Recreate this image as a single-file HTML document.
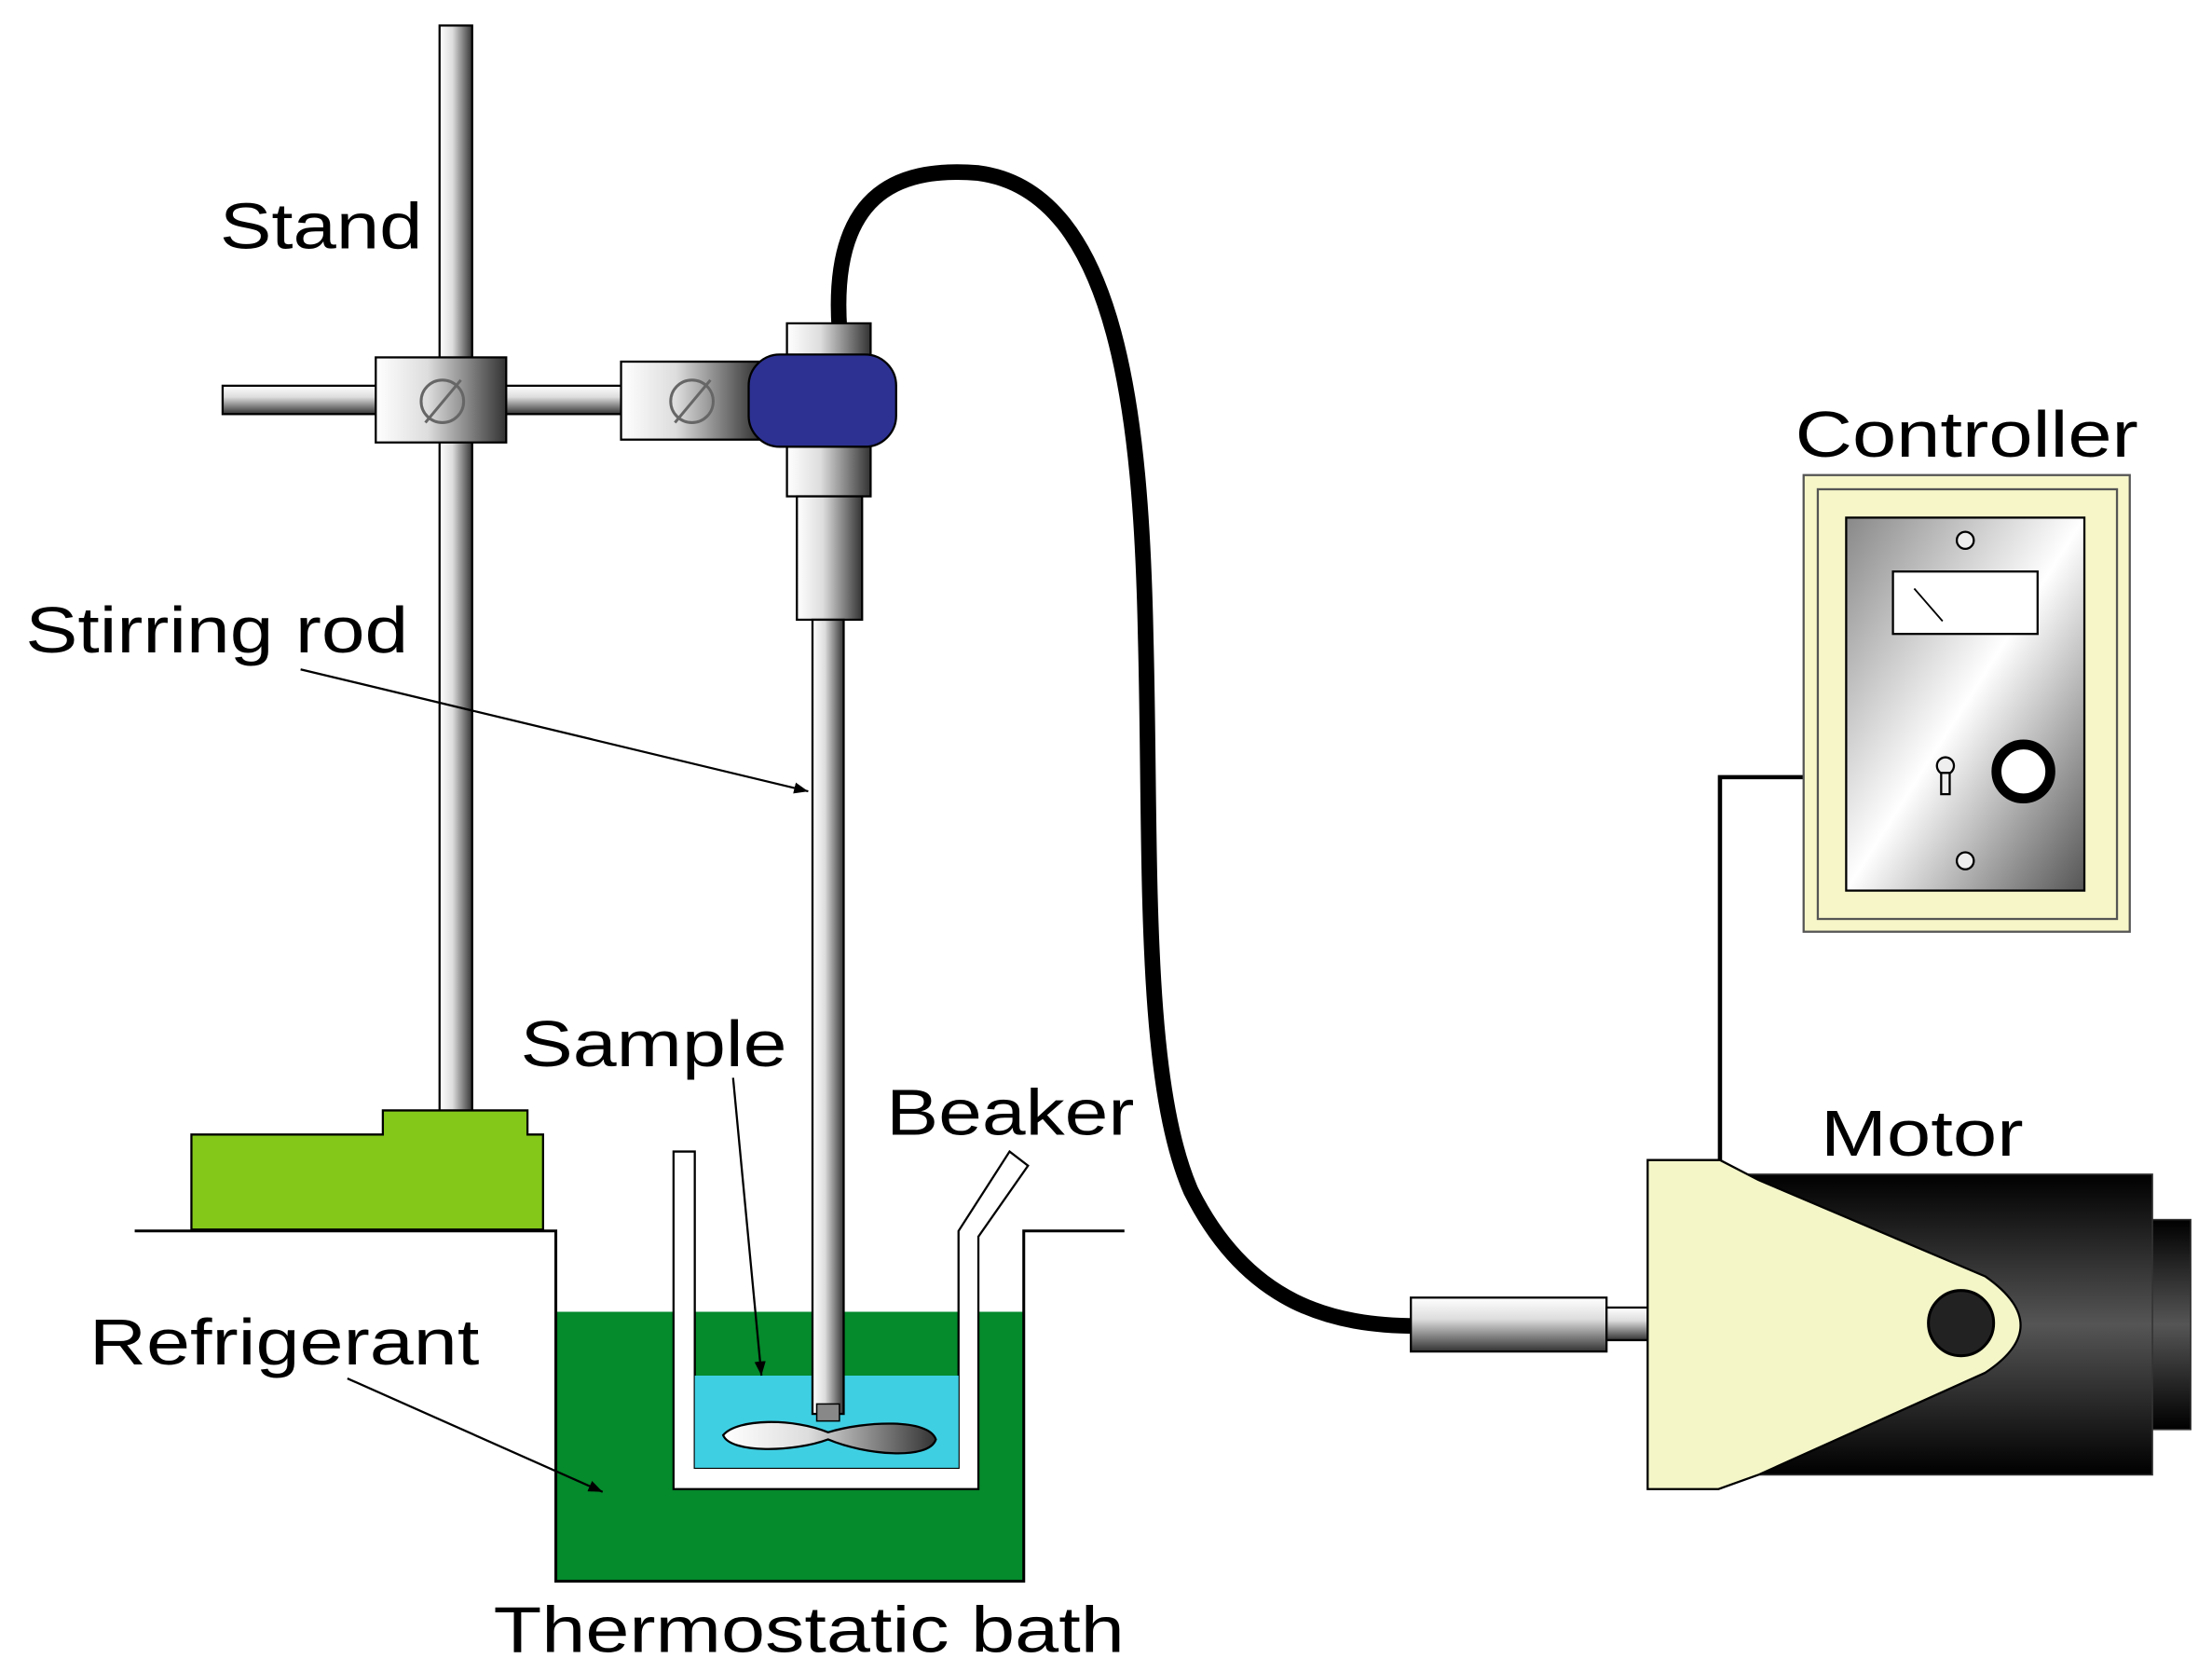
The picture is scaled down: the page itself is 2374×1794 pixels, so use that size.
<!DOCTYPE html>
<html><head><meta charset="utf-8"><style>html,body{margin:0;padding:0;background:#fff}svg{display:block}</style></head><body>
<svg width="2374" height="1794" viewBox="0 0 1560 1179" preserveAspectRatio="none" xmlns="http://www.w3.org/2000/svg" font-family="Liberation Sans, sans-serif">
<defs>
<linearGradient id="gx" x1="0" x2="1" y1="0" y2="0"><stop offset="0" stop-color="#fff"/><stop offset="0.4" stop-color="#ddd"/><stop offset="1" stop-color="#333"/></linearGradient>
<linearGradient id="gy" x1="0" x2="0" y1="0" y2="1"><stop offset="0" stop-color="#fff"/><stop offset="0.4" stop-color="#ddd"/><stop offset="1" stop-color="#333"/></linearGradient>
<linearGradient id="gb" x1="0" x2="0" y1="0" y2="1"><stop offset="0" stop-color="#000"/><stop offset="0.5" stop-color="#555"/><stop offset="1" stop-color="#000"/></linearGradient>
<linearGradient id="gp" x1="0" x2="1" y1="0" y2="1"><stop offset="0" stop-color="#888"/><stop offset="0.5" stop-color="#fff"/><stop offset="1" stop-color="#555"/></linearGradient>
<marker id="ar" markerWidth="10" markerHeight="8" refX="10" refY="4" orient="auto" markerUnits="userSpaceOnUse"><path d="M0,0 L10,4 L0,8 Z" fill="#000"/></marker>
</defs>
<rect x="310" y="18" width="23" height="767" fill="url(#gx)" stroke="#000" stroke-width="1.5"/>
<rect x="157" y="272" width="385" height="20" fill="url(#gy)" stroke="#000" stroke-width="1.5"/>
<rect x="265" y="252" width="92" height="60" fill="url(#gx)" stroke="#000" stroke-width="1.5"/>
<rect x="438" y="255" width="97" height="55" fill="url(#gx)" stroke="#000" stroke-width="1.5"/>
<g fill="none" stroke="#666" stroke-width="2">
<circle cx="312" cy="283" r="15"/><line x1="300" y1="298" x2="325" y2="268"/>
<circle cx="488" cy="283" r="15"/><line x1="476" y1="298" x2="501" y2="268"/>
</g>
<path d="M135,800 L270,800 L270,783 L372,783 L372,800 L383,800 L383,867 L135,867 Z" fill="#84c81a" stroke="#000" stroke-width="1.5"/>
<path d="M592,232 C585,130 640,118 690,122 C790,135 805,300 808,450 C812,600 805,760 840,840 C880,920 940,935 1000,935" fill="none" stroke="#000" stroke-width="11"/>
<rect x="555" y="228" width="59" height="24" fill="url(#gx)" stroke="#000" stroke-width="1.5"/>
<rect x="555" y="312" width="59" height="38" fill="url(#gx)" stroke="#000" stroke-width="1.5"/>
<rect x="528" y="250" width="104" height="65" rx="22" fill="#2c3192" stroke="#000" stroke-width="1.5"/>
<rect x="562" y="350" width="46" height="87" fill="url(#gx)" stroke="#000" stroke-width="1.5"/>
<rect x="392" y="925" width="330" height="190" fill="#058a2c"/>
<path d="M95,868 L392,868 L392,1115 L722,1115 L722,868 L793,868" fill="none" stroke="#000" stroke-width="2"/>
<path d="M475,812 L490,812 L490,1035 L676,1035 L676,868 L712,812 L725,822 L690,872 L690,1050 L475,1050 Z" fill="#fff" stroke="#000" stroke-width="1.5"/>
<rect x="490" y="970" width="186" height="65" fill="#3fcfe3"/>
<rect x="573" y="437" width="22" height="560" fill="url(#gx)" stroke="#000" stroke-width="1.5"/>
<rect x="576" y="990" width="16" height="12" fill="#888" stroke="#000"/>
<path d="M584,1010 C560,1000 520,1000 510,1012 C515,1025 560,1024 584,1015 C610,1026 655,1030 660,1015 C655,1000 610,1002 584,1010 Z" fill="url(#gx)" stroke="#000" stroke-width="1.5"/>
<rect x="995" y="915" width="138" height="38" fill="url(#gy)" stroke="#000" stroke-width="1.5"/>
<rect x="1133" y="922" width="30" height="23" fill="url(#gy)" stroke="#000" stroke-width="1.5"/>
<rect x="1515" y="860" width="30" height="148" fill="url(#gb)" stroke="#333"/>
<rect x="1230" y="828" width="288" height="212" fill="url(#gb)" stroke="#333"/>
<path d="M1162,818 L1213,818 L1240,832 L1400,900 Q1450,935 1400,968 L1240,1040 L1212,1050 L1162,1050 Z" fill="#f4f6c8" stroke="#000" stroke-width="1.5"/>
<circle cx="1383" cy="933" r="23" fill="#222" stroke="#000" stroke-width="2"/>
<path d="M1213,818 L1213,548 L1272,548" fill="none" stroke="#000" stroke-width="3"/>
<rect x="1272" y="335" width="230" height="322" fill="#f7f6c9" stroke="#555" stroke-width="1.5"/>
<rect x="1282" y="345" width="211" height="303" fill="none" stroke="#555" stroke-width="1.5"/>
<rect x="1302" y="365" width="168" height="263" fill="url(#gp)" stroke="#000" stroke-width="1.5"/>
<rect x="1335" y="403" width="102" height="44" fill="#fff" stroke="#000" stroke-width="1.5"/>
<line x1="1350" y1="415" x2="1370" y2="438" stroke="#000" stroke-width="1.2"/>
<circle cx="1386" cy="381" r="6" fill="#eee" stroke="#000" stroke-width="1.5"/>
<circle cx="1386" cy="607" r="6" fill="#eee" stroke="#000" stroke-width="1.5"/>
<circle cx="1372" cy="540" r="6" fill="#eee" stroke="#000" stroke-width="1.5"/>
<rect x="1369" y="545" width="6" height="15" fill="#eee" stroke="#000" stroke-width="1.5"/>
<circle cx="1427" cy="544" r="19" fill="#fff" stroke="#000" stroke-width="7"/>
<g stroke="#000" stroke-width="1.5" marker-end="url(#ar)">
<line x1="212" y1="472" x2="570" y2="558"/>
<line x1="517" y1="760" x2="537" y2="970"/>
<line x1="245" y1="972" x2="425" y2="1052"/>
</g>
<g font-size="46" fill="#000" lengthAdjust="spacingAndGlyphs">
<text x="155" y="175" textLength="143" lengthAdjust="spacingAndGlyphs">Stand</text>
<text x="18" y="460" textLength="270" lengthAdjust="spacingAndGlyphs">Stirring rod</text>
<text x="367" y="752" textLength="188" lengthAdjust="spacingAndGlyphs">Sample</text>
<text x="625" y="800" textLength="175" lengthAdjust="spacingAndGlyphs">Beaker</text>
<text x="1266" y="322" textLength="242" lengthAdjust="spacingAndGlyphs">Controller</text>
<text x="1284" y="815" textLength="143" lengthAdjust="spacingAndGlyphs">Motor</text>
<text x="63" y="962" textLength="275" lengthAdjust="spacingAndGlyphs">Refrigerant</text>
<text x="348" y="1165" textLength="445" lengthAdjust="spacingAndGlyphs">Thermostatic bath</text>
</g>
</svg>
</body></html>
